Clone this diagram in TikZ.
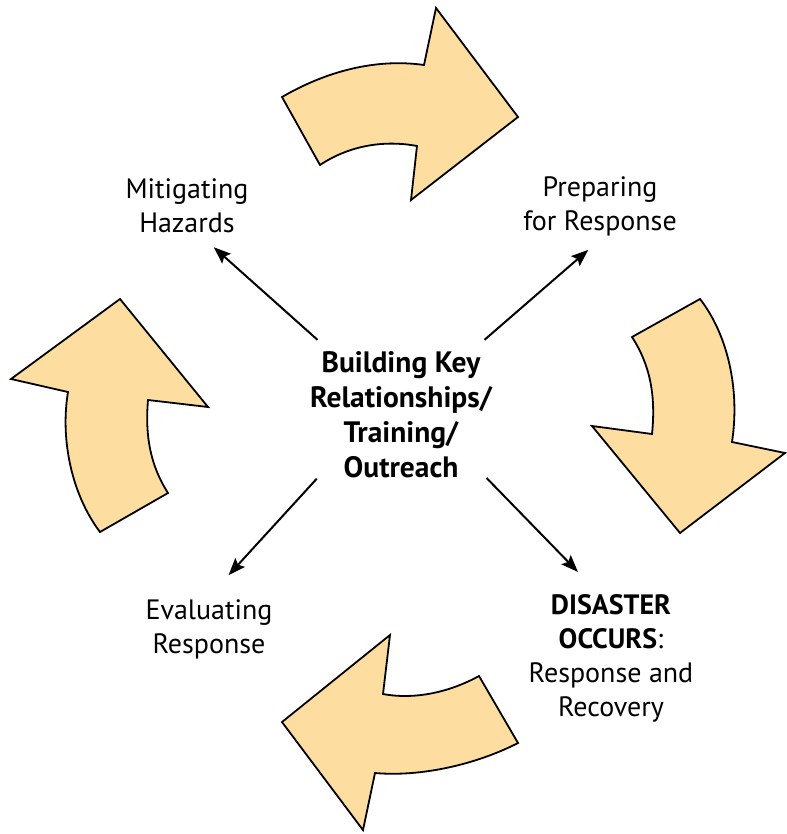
\documentclass[tikz,border=0pt]{standalone}
\usepackage{fontspec}
\setmainfont{PT Sans}
\usetikzlibrary{arrows.meta}
\definecolor{peach}{RGB}{253,222,160}

\tikzset{
  cyclearrow/.style={draw=black, fill=peach, line width=1.8pt, line join=miter},
  lbl/.style={align=center, inner xsep=4pt, inner ysep=14pt, font=\fontsize{28}{34}\selectfont},
  spoke/.style={line width=2pt, -{Stealth[length=17pt,width=13pt,inset=3pt]}}
}

\begin{document}
\begin{tikzpicture}[x=1pt, y=-1pt]
    \useasboundingbox (0,0) rectangle (786,834);
    % the four big curved arrows
    \draw[cyclearrow] (282,97) .. controls (325,72) and (375,58) .. (424,65) -- (436,8) -- (518,117)
        -- (411,200) -- (417,146) .. controls (385,140) and (350,145) .. (320,165) -- cycle;
    \draw[cyclearrow] (700,299) .. controls (728,335) and (740,390) .. (732,442) -- (785,453) -- (680,533)
        -- (592,426) -- (652,434) .. controls (656,395) and (650,365) .. (632,337) -- cycle;
    \draw[cyclearrow] (518,743) .. controls (475,765) and (420,777) .. (375,773) -- (363,830) -- (282,722)
        -- (390,635) -- (383,694) .. controls (415,700) and (450,692) .. (479,676) -- cycle;
    \draw[cyclearrow] (100,532) .. controls (72,495) and (60,440) .. (68,392) -- (11,379) -- (120,299)
        -- (208,407) -- (148,400) .. controls (145,435) and (150,465) .. (168,493) -- cycle;

    % hub and labels
    \node (hub) at (401,415) [inner sep=0pt, minimum width=169pt, minimum height=150pt, align=center,
        font=\fontsize{29.5}{35}\bfseries\selectfont] {Building Key\\Relationships/\\Training/\\Outreach};
    \node (mitigate) at (187,206) [lbl] {Mitigating\\Hazards};
    \node (prepare)  at (600,206) [lbl] {Preparing\\for Response};
    \node (evaluate) at (209,629) [lbl, inner ysep=24pt] {Evaluating\\Response};
    \node (disaster) at (611,658) [lbl, inner ysep=22pt] {\textbf{DISASTER}\\\textbf{OCCURS}:\\Response and\\Recovery};

    \draw[spoke] (hub.138) -- (mitigate.-57);
    \draw[spoke] (hub.42) -- (prepare.-105);
    \draw[spoke, shorten <=-10pt] (hub.-142) -- (evaluate.70);
    \draw[spoke, shorten <=-8pt] (hub.-37) -- (disaster.111);
\end{tikzpicture}
\end{document}
